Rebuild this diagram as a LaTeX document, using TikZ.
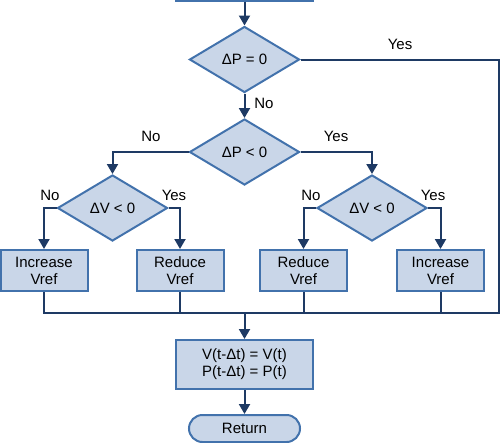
\documentclass[tikz,border=0pt]{standalone}
\usepackage{fontspec}
\setmainfont{Liberation Sans}
\usetikzlibrary{shapes.geometric,shapes.misc,arrows.meta}
\definecolor{shapefill}{RGB}{201,214,232}
\definecolor{shapeborder}{RGB}{66,114,172}
\definecolor{linecol}{RGB}{30,58,100}
\tikzset{
  base/.style={draw=shapeborder, fill=shapefill, line width=2pt, inner sep=0pt,
    font=\fontsize{15}{17}\selectfont, align=center},
  dec/.style={base, diamond, minimum width=110pt, minimum height=66pt},
  procbox/.style={base, rectangle, minimum width=87pt, minimum height=41pt},
  termbox/.style={base, rounded rectangle, minimum width=111pt, minimum height=27pt},
  conn/.style={draw=linecol, line width=2pt},
  arr/.style={conn, -{Triangle[width=11pt,length=10pt]}},
  lbl/.style={font=\fontsize{15}{17}\selectfont, inner sep=0pt}
}
\begin{document}
\begin{tikzpicture}[x=1pt,y=-1pt]
\useasboundingbox (0,0) rectangle (500,442);
% top (cut-off) box
\node[procbox, minimum width=137pt, minimum height=40pt] (start) at (244.5,-19.5) {};
% decisions
\node[dec] (d1) at (244.5,59.5) {ΔP = 0};
\node[dec] (d2) at (244.5,152) {ΔP < 0};
\node[dec] (d3) at (112.5,208) {ΔV < 0};
\node[dec] (d4) at (372,208) {ΔV < 0};
% actions
\node[procbox] (b1) at (44,270.5) {Increase\\Vref};
\node[procbox] (b2) at (180,270.5) {Reduce\\Vref};
\node[procbox] (b3) at (303.5,270.5) {Reduce\\Vref};
\node[procbox] (b4) at (440.5,270.5) {Increase\\Vref};
\node[procbox, minimum width=137pt, minimum height=49pt] (b5) at (244.5,364.5) {V(t-Δt) = V(t)\\P(t-Δt) = P(t)};
\node[termbox] (ret) at (244.5,428.5) {Return};
% junction coordinates
\coordinate (rj) at (498.5,313);
\coordinate (j) at (244.5,313);
% connectors
\draw[arr] (start.south) -- (d1.north);
\draw[arr] (d1.south) -- (d2.north);
\draw[arr] (d2.west) -| (d3.north);
\draw[arr] (d2.east) -| (d4.north);
\draw[arr] (d3.west) -| (b1.north);
\draw[arr] (d3.east) -| (b2.north);
\draw[arr] (d4.west) -| (b3.north);
\draw[arr] (d4.east) -| (b4.north);
\draw[conn] (d1.east) -| (rj) -- (b1.south |- rj) -- (b1.south);
\draw[conn] (b2.south) -- (b2.south |- rj);
\draw[conn] (b3.south) -- (b3.south |- rj);
\draw[conn] (b4.south) -- (b4.south |- rj);
\draw[arr] (j) -- (b5.north);
\draw[arr] (b5.south) -- (ret.north);
% labels
\node[lbl] (l1) at (400,44) {Yes};
\node[lbl] (l2) at (264,103) {No};
\node[lbl] (l3) at (151,136) {No};
\node[lbl] (l4) at (336,136) {Yes};
\node[lbl] (l5) at (50,195) {No};
\node[lbl] (l6) at (174,195) {Yes};
\node[lbl] (l7) at (311,195) {No};
\node[lbl] (l8) at (433,195) {Yes};
\end{tikzpicture}
\end{document}
